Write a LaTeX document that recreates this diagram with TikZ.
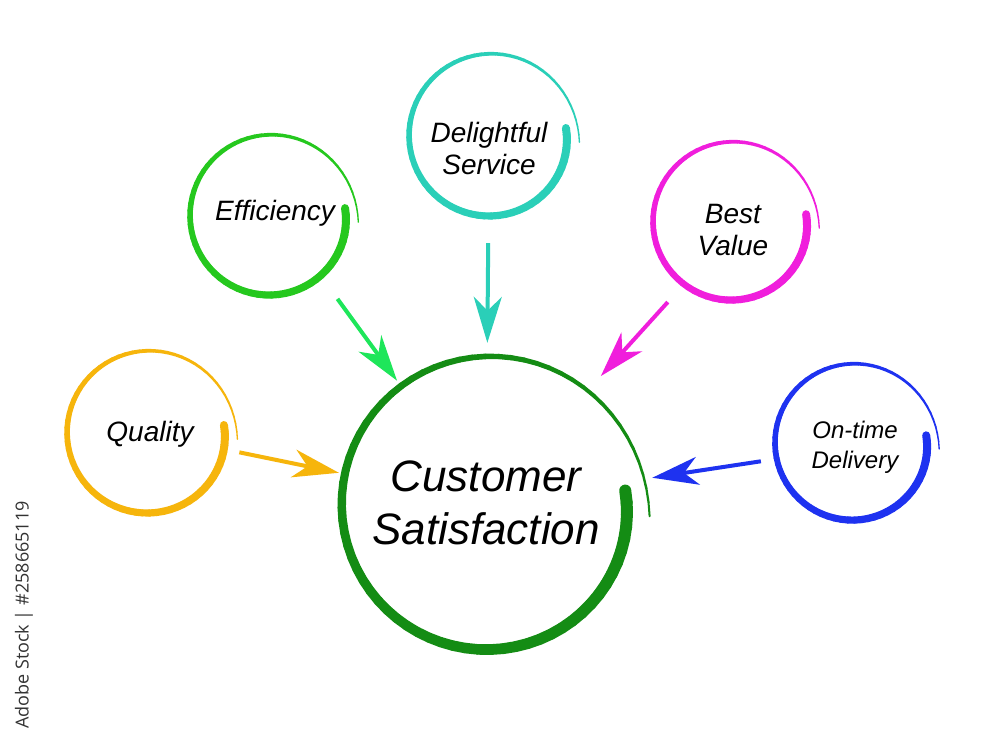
\documentclass[tikz,border=0pt]{standalone}
\usepackage{fontspec}
\setmainfont{Liberation Sans}
\newfontfamily\stockfont{Open Sans}
\usetikzlibrary{arrows.meta}

\definecolor{qualityc}{HTML}{F6B50C}
\definecolor{efficiencyc}{HTML}{25C81E}
\definecolor{efficiencyarr}{HTML}{1EE65A}
\definecolor{delightc}{HTML}{2ACFB8}
\definecolor{valuec}{HTML}{F01EDC}
\definecolor{ontimec}{HTML}{1E32F0}
\definecolor{custsatc}{HTML}{148C14}

% brush-stroke ring: x, y, radius, colour, widest stroke
\newcommand\brushring[5]{%
  \foreach \k in {0,...,73}{
    \pgfmathsetmacro\ta{\k/74}
    \pgfmathsetmacro\tb{(\k+1)/74}
    \pgfmathsetmacro\fa{\ta*\ta*\ta*\ta}
    \pgfmathsetmacro\fb{\tb*\tb*\tb*\tb}
    \pgfmathsetmacro\ga{(1-\ta)*(1-\ta)*(1-\ta)*(1-\ta)}
    \pgfmathsetmacro\gb{(1-\tb)*(1-\tb)*(1-\tb)*(1-\tb)}
    \pgfmathsetmacro\aa{6-370*\ta}
    \pgfmathsetmacro\ab{6-370*\tb}
    \pgfmathsetmacro\ra{#3*(0.96+0.03*\ta+0.09*\fa*\fa-0.04*\ga*\ga)}
    \pgfmathsetmacro\rb{#3*(0.96+0.03*\tb+0.09*\fb*\fb-0.04*\gb*\gb)}
    \pgfmathsetmacro\wd{#5*(1-0.85*\ta*sqrt(\ta))}
    \draw[#4, line width=\wd pt, line cap=round]
      ([shift={(#1,#2)}]\aa:\ra) -- ([shift={(#1,#2)}]\ab:\rb);
  }}

\begin{document}
\begin{tikzpicture}[x=1pt, y=1pt,
  every node/.style = {shape=circle, align=center, inner sep=0pt},
  topic/.style = {minimum size=166pt, font=\itshape\fontsize{28}{32}\selectfont},
  feed/.style = {line width=4pt, -{Stealth[length=46pt, width=28pt, inset=14pt]}}]
  \useasboundingbox[fill=white] (0,0) rectangle (1000,-735);

  % rings
  \brushring{148}{-433}{83}{qualityc}{8}
  \brushring{270}{-216}{82}{efficiencyc}{8}
  \brushring{490}{-136}{83}{delightc}{8}
  \brushring{732}{-222}{81}{valuec}{8}
  \brushring{853}{-443}{80}{ontimec}{8}
  \brushring{488}{-505}{150}{custsatc}{12}

  \node[topic] (quality) at (150,-434) {Quality};
  \node[topic] (efficiency) at (275,-213) {Efficiency};
  \node[topic] (delight) at (489,-148) {Delightful\\Service};
  \node[topic] (bestvalue) at (733,-230) {Best\\Value};
  \node[topic, font=\itshape\fontsize{24}{30}\selectfont] (ontime) at (855,-447) {On-time\\Delivery};
  \node[minimum size=300pt, font=\itshape\fontsize{44}{53}\selectfont] (custsat) at (486,-503) {Customer\\Satisfaction};

  \draw[feed, qualityc, shorten <=8pt] (quality) -- (custsat);
  \draw[feed, efficiencyarr, shorten <=23pt, shorten >=1pt] (efficiency) -- (custsat);
  \draw[feed, delightc, shorten <=12pt, shorten >=10pt] (delight) -- (custsat);
  \draw[feed, valuec, shorten <=14pt, shorten >=21pt] (bestvalue) -- (custsat);
  \draw[feed, ontimec, shorten <=12pt, shorten >=18pt] (ontime) -- (custsat);

  \node[shape=rectangle, rotate=90, anchor=east, text=black!80,
    font=\stockfont\fontsize{18}{18}\selectfont] (stockmark) at (24,-501) {Adobe Stock | \#258665119};
\end{tikzpicture}
\end{document}
